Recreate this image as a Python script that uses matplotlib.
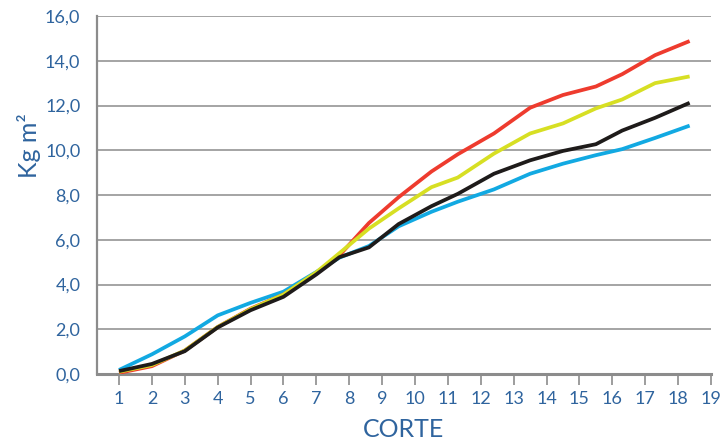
import matplotlib
matplotlib.use("Agg")
import matplotlib.pyplot as plt

corte = [1, 2, 3, 4, 5, 6, 7, 7.7, 8.6, 9.5, 10.5, 11.3, 12.4, 13.5, 14.5, 15.5, 16.3, 17.3, 18.35]
serie_roja = [0.05, 0.35, 1.05, 2.10, 2.92, 3.55, 4.50, 5.30, 6.75, 7.90, 9.05, 9.82, 10.75, 11.90, 12.47, 12.85, 13.40, 14.25, 14.88]
serie_amarilla = [0.10, 0.40, 1.05, 2.10, 2.90, 3.55, 4.55, 5.40, 6.50, 7.40, 8.35, 8.78, 9.85, 10.75, 11.20, 11.87, 12.27, 13.00, 13.30]
serie_negra = [0.13, 0.45, 1.02, 2.08, 2.85, 3.45, 4.45, 5.22, 5.66, 6.70, 7.50, 8.05, 8.95, 9.55, 9.97, 10.27, 10.88, 11.45, 12.12]
serie_azul = [0.18, 0.88, 1.68, 2.62, 3.18, 3.68, 4.56, 5.20, 5.72, 6.60, 7.25, 7.70, 8.25, 8.95, 9.40, 9.78, 10.05, 10.55, 11.10]

x_ticks = list(range(1, 20))
y_ticks = [0, 2, 4, 6, 8, 10, 12, 14, 16]
y_labels = ["0,0", "2,0", "4,0", "6,0", "8,0", "10,0", "12,0", "14,0", "16,0"]

plt.rcParams['font.family'] = ['Lato', 'DejaVu Sans']
txt = "#2F649E"
gray = "#8C8C8C"

fig = plt.figure(figsize=(7.26, 4.47), dpi=100)
ax = fig.add_axes([97/726, 73/447, (711-97)/726, (374-16)/447])

lw = 2.7
ax.plot(corte, serie_azul, color="#12A9E2", lw=lw, solid_capstyle="butt", zorder=3)
ax.plot(corte, serie_roja, color="#EE3B2E", lw=lw, solid_capstyle="butt", zorder=4)
ax.plot(corte, serie_amarilla, color="#D7DF23", lw=lw, solid_capstyle="butt", zorder=5)
ax.plot(corte, serie_negra, color="#1E1B1A", lw=lw, solid_capstyle="butt", zorder=6)

ax.set_xlim(0.33, 19)
ax.set_ylim(0, 16)
ax.set_xticks(x_ticks)
ax.set_xticklabels([str(v) for v in x_ticks])
ax.set_yticks(y_ticks)
ax.set_yticklabels(y_labels)

ax.grid(axis="y", color=gray, lw=1.1, zorder=0)
ax.set_axisbelow(True)
for s in ["top", "right"]:
    ax.spines[s].set_visible(False)
ax.spines["left"].set_color(gray)
ax.spines["left"].set_linewidth(1.6)
ax.spines["bottom"].set_color(gray)
ax.spines["bottom"].set_linewidth(2.2)

ax.tick_params(axis="x", direction="out", length=8, width=1.2, color=gray,
               labelsize=13, labelcolor=txt, pad=4)
ax.tick_params(axis="y", length=0, labelsize=13, labelcolor=txt, pad=12)

ax.set_xlabel("CORTE", fontsize=18, color=txt, labelpad=8)
ax.set_ylabel("Kg m²", fontsize=18, color=txt)
ax.yaxis.set_label_coords(-0.092, 0.637)

fig.savefig("out.png", dpi=100)
